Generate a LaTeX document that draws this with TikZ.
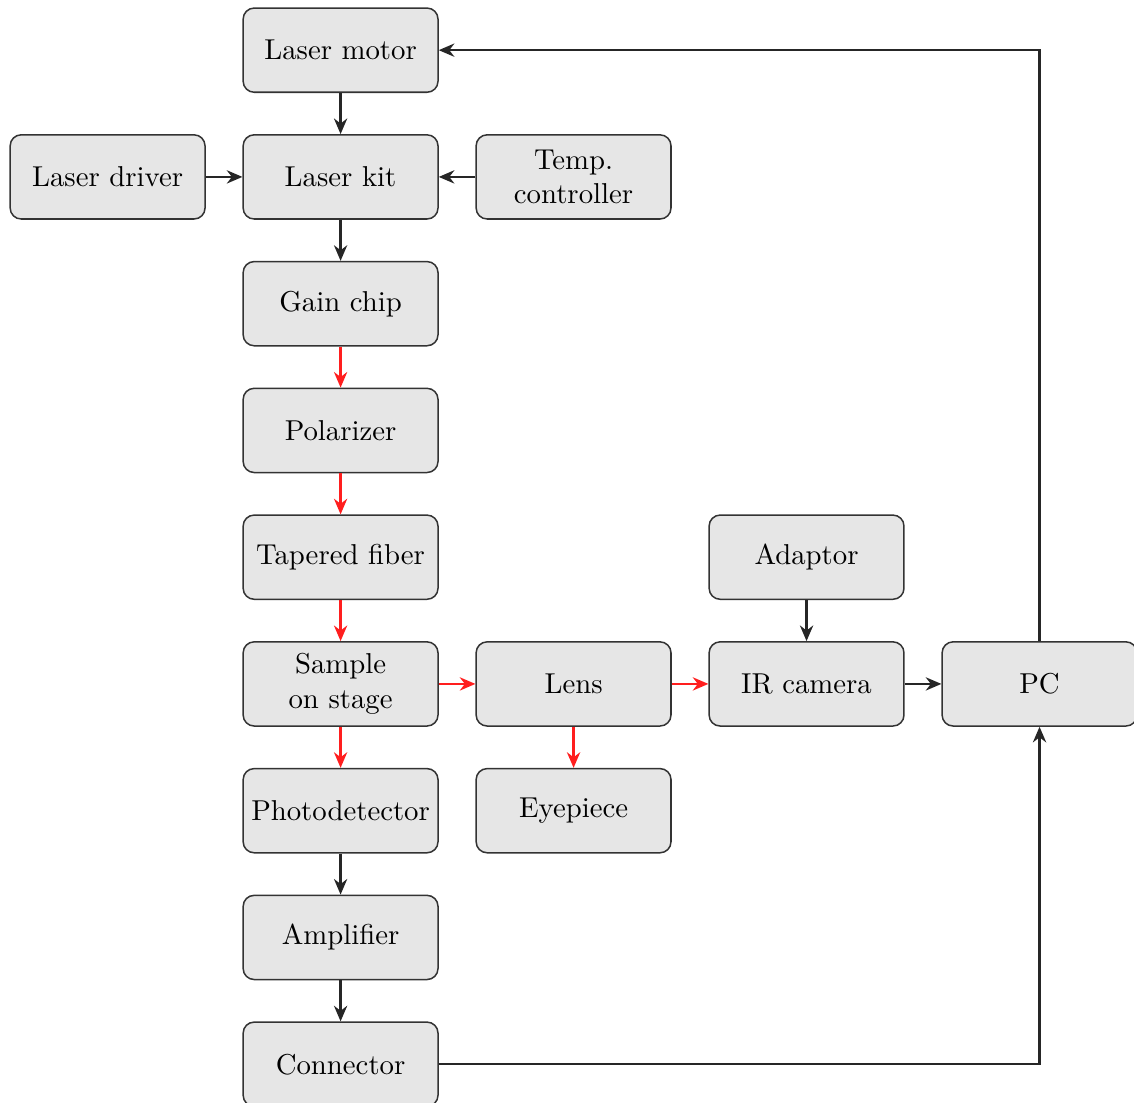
\documentclass[tikz,border=0pt]{standalone}
\usepackage{tikz}
\usetikzlibrary{arrows.meta,positioning}
\definecolor{boxgray}{RGB}{230,230,230}
\definecolor{beamred}{RGB}{255,30,30}
\tikzset{
  blockbox/.style={
    rectangle,
    rounded corners=4pt,
    draw=black!80,
    line width=0.55pt,
    fill=boxgray,
    align=center,
    minimum width=2.5cm,
    minimum height=1.08cm,
    inner sep=2pt,
    font=\fontsize{10.5}{12.6}\selectfont
  },
  wirearrow/.style={
    -{Stealth[length=2mm,width=1.7mm]},
    line width=0.9pt,
    draw=black!85
  },
  beamarrow/.style={
    -{Stealth[length=2mm,width=1.7mm]},
    line width=0.9pt,
    draw=beamred
  }
}

\begin{document}
\begin{tikzpicture}[node distance=0.527cm and 0.47cm]
\useasboundingbox (-4.37,2.27) rectangle (10.18,-11.88);
\node[blockbox] (kit) at (0,0) {Laser kit};
\node[blockbox, above=of kit] (motor) {Laser motor};
\node[blockbox, left=of kit] (driver) {Laser driver};
\node[blockbox, right=of kit] (temp) {Temp.\\controller};
\node[blockbox, below=of kit] (gain) {Gain chip};
\node[blockbox, below=of gain] (polar) {Polarizer};
\node[blockbox, below=of polar] (fiber) {Tapered fiber};
\node[blockbox, below=of fiber] (sample) {Sample\\on stage};
\node[blockbox, right=of sample] (lens) {Lens};
\node[blockbox, right=of lens] (camera) {IR camera};
\node[blockbox, right=of camera] (pc) {PC};
\node[blockbox, above=of camera] (adaptor) {Adaptor};
\node[blockbox, below=of lens] (eyepiece) {Eyepiece};
\node[blockbox, below=of sample] (photo) {Photodetector};
\node[blockbox, below=of photo] (amp) {Amplifier};
\node[blockbox, below=of amp] (conn) {Connector};

\draw[wirearrow] (motor) -- (kit);
\draw[wirearrow] (driver) -- (kit);
\draw[wirearrow] (temp) -- (kit);
\draw[wirearrow] (kit) -- (gain);
\draw[beamarrow] (gain) -- (polar);
\draw[beamarrow] (polar) -- (fiber);
\draw[beamarrow] (fiber) -- (sample);
\draw[beamarrow] (sample) -- (lens);
\draw[beamarrow] (lens) -- (camera);
\draw[beamarrow] (lens) -- (eyepiece);
\draw[beamarrow] (sample) -- (photo);
\draw[wirearrow] (photo) -- (amp);
\draw[wirearrow] (amp) -- (conn);
\draw[wirearrow] (adaptor) -- (camera);
\draw[wirearrow] (camera) -- (pc);
\draw[wirearrow] (conn) -| (pc);
\draw[wirearrow] (pc) |- (motor);
\end{tikzpicture}
\end{document}
